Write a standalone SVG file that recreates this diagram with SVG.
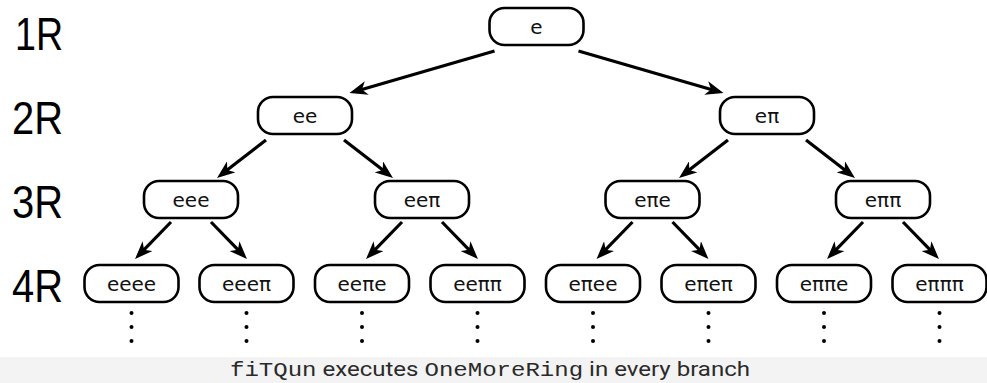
<svg xmlns="http://www.w3.org/2000/svg" width="987" height="383" viewBox="0 0 987 383">
  <style>
    .box { fill: #ffffff; stroke: #000000; stroke-width: 2.6; }
    .lbl { font-family: "DejaVu Sans", "Liberation Sans", sans-serif; font-size: 20px; text-anchor: middle; fill: #111111; }
    .row { font-family: "Liberation Sans", "DejaVu Sans", sans-serif; font-size: 46px; fill: #000000; }
    .arr { stroke: #000000; stroke-width: 3.2; fill: none; marker-end: url(#head); }
    .dot { fill: #000000; }
    .cap { font-family: "Roboto", "Liberation Sans", sans-serif; font-size: 21px; fill: #2a2a2a; }
    .mono { font-family: "Liberation Mono", "DejaVu Sans Mono", monospace; }
  </style>
  <defs>
    <marker id="head" markerUnits="userSpaceOnUse" markerWidth="18" markerHeight="14" viewBox="0 0 18 14" refX="6" refY="7" orient="auto">
      <path d="M0,0 L18,7 L0,14 L5,7 z" fill="#000000"/>
    </marker>
    <rect id="pill" x="-47" y="0" width="94" height="37" rx="15" ry="15"/>
  </defs>

  <rect x="0" y="0" width="987" height="383" fill="#ffffff"/>

  <!-- row labels -->
  <g id="rows">
    <text class="row" x="15" y="50" textLength="48" lengthAdjust="spacingAndGlyphs">1R</text>
    <text class="row" x="12" y="134" textLength="51" lengthAdjust="spacingAndGlyphs">2R</text>
    <text class="row" x="12" y="218" textLength="51" lengthAdjust="spacingAndGlyphs">3R</text>
    <text class="row" x="12" y="302" textLength="51" lengthAdjust="spacingAndGlyphs">4R</text>
  </g>

  <!-- connectors -->
  <g id="edges">
    <path class="arr" d="M494.5,51 L361,89.7"/>
    <path class="arr" d="M578.5,51 L712,89.7"/>

    <path class="arr" d="M266,140 L226.5,170.6"/>
    <path class="arr" d="M344,140 L383.5,170.6"/>
    <path class="arr" d="M728,140 L688.5,170.6"/>
    <path class="arr" d="M806,140 L845.5,170.6"/>

    <path class="arr" d="M171,222 L143.4,250.4"/>
    <path class="arr" d="M211,222 L238.6,250.4"/>
    <path class="arr" d="M402,222 L374.4,250.4"/>
    <path class="arr" d="M442,222 L469.6,250.4"/>
    <path class="arr" d="M632.5,222 L604.9,250.4"/>
    <path class="arr" d="M672.5,222 L700.1,250.4"/>
    <path class="arr" d="M863,222 L835.4,250.4"/>
    <path class="arr" d="M903,222 L930.6,250.4"/>
  </g>

  <!-- level 1 -->
  <g id="n-e" transform="translate(536.5,8)"><use href="#pill" class="box"/><text class="lbl" x="0" y="25.5">e</text></g>

  <!-- level 2 -->
  <g id="n-ee" transform="translate(305,97)"><use href="#pill" class="box"/><text class="lbl" x="0" y="25.5">ee</text></g>
  <g id="n-ep" transform="translate(767,97)"><use href="#pill" class="box"/><text class="lbl" x="0" y="25.5">eπ</text></g>

  <!-- level 3 -->
  <g id="n-eee" transform="translate(191,181)"><use href="#pill" class="box"/><text class="lbl" x="0" y="25.5">eee</text></g>
  <g id="n-eep" transform="translate(422,181)"><use href="#pill" class="box"/><text class="lbl" x="0" y="25.5">eeπ</text></g>
  <g id="n-epe" transform="translate(652.5,181)"><use href="#pill" class="box"/><text class="lbl" x="0" y="25.5">eπe</text></g>
  <g id="n-epp" transform="translate(883,181)"><use href="#pill" class="box"/><text class="lbl" x="0" y="25.5">eππ</text></g>

  <!-- level 4 -->
  <g id="n-eeee" transform="translate(131.5,265)"><use href="#pill" class="box"/><text class="lbl" x="0" y="25.5">eeee</text></g>
  <g id="n-eeep" transform="translate(246.5,265)"><use href="#pill" class="box"/><text class="lbl" x="0" y="25.5">eeeπ</text></g>
  <g id="n-eepe" transform="translate(362,265)"><use href="#pill" class="box"/><text class="lbl" x="0" y="25.5">eeπe</text></g>
  <g id="n-eepp" transform="translate(477.5,265)"><use href="#pill" class="box"/><text class="lbl" x="0" y="25.5">eeππ</text></g>
  <g id="n-epee" transform="translate(593,265)"><use href="#pill" class="box"/><text class="lbl" x="0" y="25.5">eπee</text></g>
  <g id="n-epep" transform="translate(708.5,265)"><use href="#pill" class="box"/><text class="lbl" x="0" y="25.5">eπeπ</text></g>
  <g id="n-eppe" transform="translate(824,265)"><use href="#pill" class="box"/><text class="lbl" x="0" y="25.5">eππe</text></g>
  <g id="n-eppp" transform="translate(939.5,265)"><use href="#pill" class="box"/><text class="lbl" x="0" y="25.5">eπππ</text></g>

  <!-- continuation dots under each leaf -->
  <g id="dots">
    <g transform="translate(131.5,0)"><circle class="dot" cx="0" cy="313" r="2"/><circle class="dot" cx="0" cy="327" r="2"/><circle class="dot" cx="0" cy="341" r="2"/></g>
    <g transform="translate(246.5,0)"><circle class="dot" cx="0" cy="313" r="2"/><circle class="dot" cx="0" cy="327" r="2"/><circle class="dot" cx="0" cy="341" r="2"/></g>
    <g transform="translate(362,0)"><circle class="dot" cx="0" cy="313" r="2"/><circle class="dot" cx="0" cy="327" r="2"/><circle class="dot" cx="0" cy="341" r="2"/></g>
    <g transform="translate(477.5,0)"><circle class="dot" cx="0" cy="313" r="2"/><circle class="dot" cx="0" cy="327" r="2"/><circle class="dot" cx="0" cy="341" r="2"/></g>
    <g transform="translate(593,0)"><circle class="dot" cx="0" cy="313" r="2"/><circle class="dot" cx="0" cy="327" r="2"/><circle class="dot" cx="0" cy="341" r="2"/></g>
    <g transform="translate(708.5,0)"><circle class="dot" cx="0" cy="313" r="2"/><circle class="dot" cx="0" cy="327" r="2"/><circle class="dot" cx="0" cy="341" r="2"/></g>
    <g transform="translate(824,0)"><circle class="dot" cx="0" cy="313" r="2"/><circle class="dot" cx="0" cy="327" r="2"/><circle class="dot" cx="0" cy="341" r="2"/></g>
    <g transform="translate(939.5,0)"><circle class="dot" cx="0" cy="313" r="2"/><circle class="dot" cx="0" cy="327" r="2"/><circle class="dot" cx="0" cy="341" r="2"/></g>
  </g>

  <!-- caption strip -->
  <g id="caption">
    <rect x="0" y="357" width="987" height="26" fill="#f3f3f3"/>
    <text class="cap" x="230" y="376" textLength="520" lengthAdjust="spacingAndGlyphs"><tspan class="mono">fiTQun</tspan> executes <tspan class="mono">OneMoreRing</tspan> in every branch</text>
  </g>
</svg>
